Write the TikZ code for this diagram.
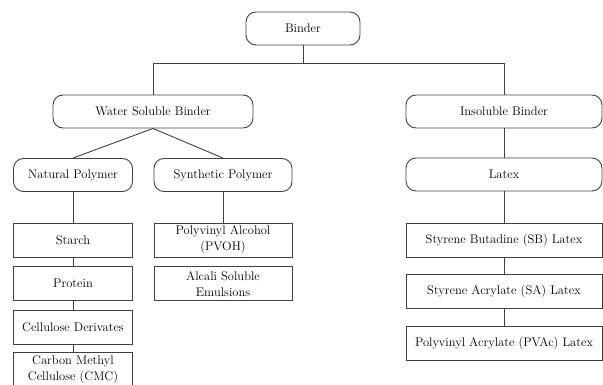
\documentclass[tikz,border=0pt]{standalone}
\usetikzlibrary{positioning}

\begin{document}
\begin{tikzpicture}[x=1pt, y=-1pt, font=\fontsize{12.5}{16}\selectfont]
	\tikzstyle{round} = [draw=black!75, line width=0.9pt, rounded corners=10pt, minimum height=33pt, inner sep=1pt, align=center, text=black]
	\tikzstyle{square} = [draw=black!75, line width=0.9pt, minimum height=34pt, inner sep=1pt, align=center, text=black]
	\tikzstyle{link} = [draw=black!75, line width=0.9pt]

	\useasboundingbox (0,0) rectangle (603,385);

	\node[round, minimum width=114pt]	at (303, 28.5)	(binder)	{Binder};
	\node[round, minimum width=200pt]	at (153, 111.5)	(wsb)		{Water Soluble Binder};
	\node[round, minimum width=196pt]	at (504, 111.5)	(insol)		{Insoluble Binder};
	\node[round, minimum width=119pt]	at (73, 175)	(natpoly)	{Natural Polymer};
	\node[round, minimum width=138pt]	at (223, 175)	(synpoly)	{Synthetic Polymer};
	\node[round, minimum width=196pt]	at (504, 174.5)	(latex)		{Latex};

	% natural polymer column
	\node[square, minimum width=119pt]	at (73, 240)	(starch)	{Starch};
	\node[square, minimum width=119pt]	at (73, 283.7)	(protein)	{Protein};
	\node[square, minimum width=119pt]	at (73, 327)	(cellder)	{Cellulose Derivates};
	\node[square, minimum width=119pt]	at (73, 369.7)	(cmc)		{Carbon Methyl\\Cellulose (CMC)};

	% synthetic polymer column
	\node[square, minimum width=138pt]	at (223, 240)	(pvoh)		{Polyvinyl Alcohol\\(PVOH)};
	\node[square, minimum width=138pt]	at (223, 283.7)	(alcali)	{Alcali Soluble\\Emulsions};

	% latex column
	\node[square, minimum width=196pt]	at (504, 240)	(sb)		{Styrene Butadine (SB) Latex};
	\node[square, minimum width=196pt]	at (504, 291.7)	(sa)		{Styrene Acrylate (SA) Latex};
	\node[square, minimum width=196pt]	at (504, 343.8)	(pvac)		{Polyvinyl Acrylate (PVAc) Latex};

	\draw[link] (binder.south) -- ++(0, 18.5) coordinate (split) -| (wsb.north);
	\draw[link] (split) -| (insol.north);

	\path[link]
	(wsb.south)		edge	(natpoly.north)
	(wsb.south)		edge	(synpoly.north)
	(natpoly)		edge	(starch)
	(starch)		edge	(protein)
	(protein)		edge	(cellder)
	(cellder)		edge	(cmc)
	(synpoly)		edge	(pvoh)
	(insol)			edge	(latex)
	(latex)			edge	(sb)
	(sb)			edge	(sa)
	(sa)			edge	(pvac);
\end{tikzpicture}
\end{document}
